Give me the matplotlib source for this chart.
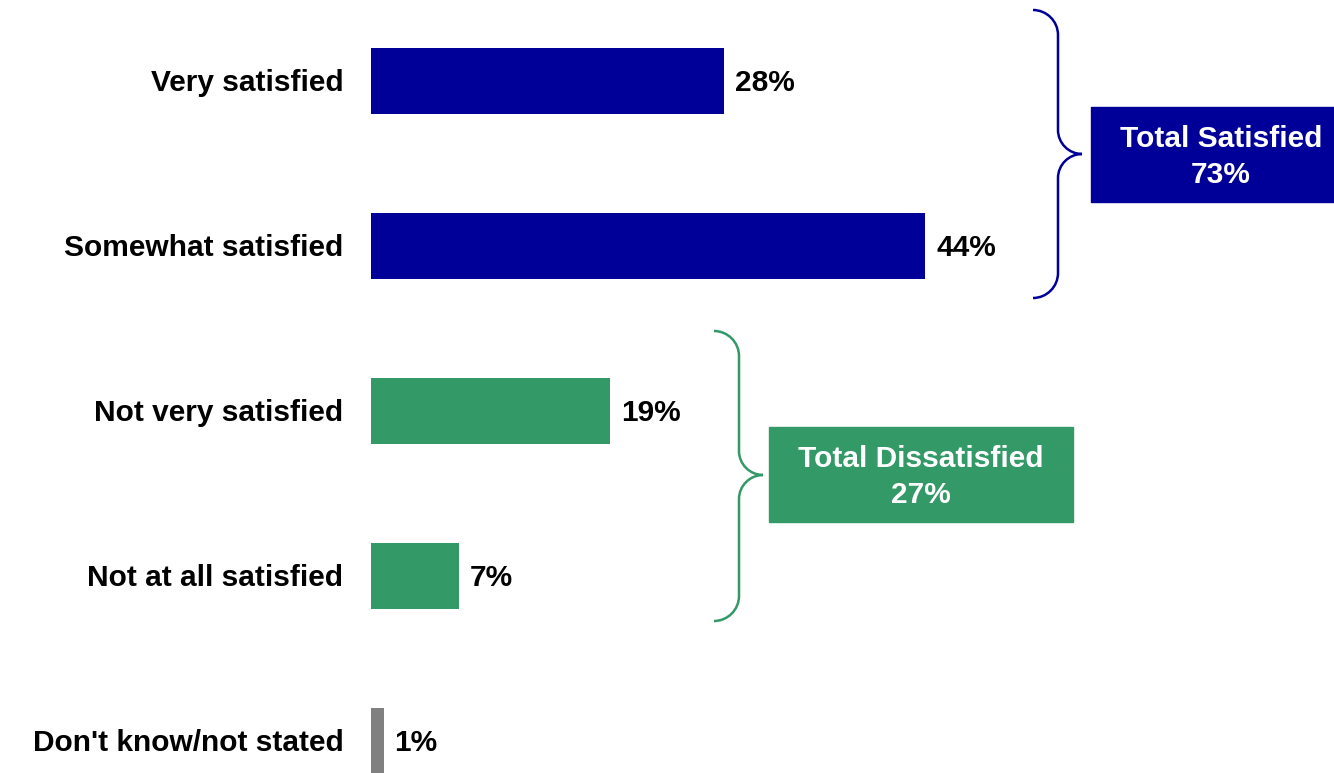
import matplotlib.pyplot as plt
from matplotlib.path import Path
from matplotlib.patches import PathPatch, Rectangle

plt.rcParams['font.family'] = ['Liberation Sans', 'DejaVu Sans']

categories = ["Very satisfied", "Somewhat satisfied", "Not very satisfied",
              "Not at all satisfied", "Don't know/not stated"]
values = [28, 44, 19, 7, 1]
bar_colors = ["#000099", "#000099", "#339966", "#339966", "#808080"]
group_labels = ["Total Satisfied\n73%", "Total Dissatisfied\n27%"]

BLUE = "#000099"
GREEN = "#339966"
W, H = 1334, 773
FS = 21.5

fig = plt.figure(figsize=(W / 100, H / 100), dpi=100)

# bar axes: left edge of bars at x=371 px, 12.6 px per percent
left = 371
ax = fig.add_axes([left / W, 0, (W - left) / W, 1])
ax.set_xlim(0, (W - left) / 12.6)
ax.set_ylim((H - 81) / 165, -81 / 165)
ypos = list(range(len(categories)))
ax.barh(ypos, values, height=0.4, color=bar_colors)
for y, v, c in zip(ypos, values, categories):
    ax.text(v + 0.85, y + 0.01, f"{v}%", va="center", ha="left",
            fontsize=FS, fontweight="bold")
    ax.text(-2.2, y + 0.01, c, va="center", ha="right",
            fontsize=FS, fontweight="bold", clip_on=False)
ax.axis("off")

# overlay in pixel coordinates for braces and total boxes
ov = fig.add_axes([0, 0, 1, 1])
ov.set_xlim(0, W)
ov.set_ylim(H, 0)
ov.axis("off")


def brace(x0, xm, xt, y0, ym, y1, color):
    r = xm - x0
    s = xt - xm
    k = 0.55
    verts = [(x0, y0), (x0 + k * r, y0), (xm, y0 + r - k * r), (xm, y0 + r),
             (xm, ym - s),
             (xm, ym - s + k * s), (xt - k * s, ym), (xt, ym),
             (xt - k * s, ym), (xm, ym + s - k * s), (xm, ym + s),
             (xm, y1 - r),
             (xm, y1 - r + k * r), (x0 + k * r, y1), (x0, y1)]
    codes = [Path.MOVETO, Path.CURVE4, Path.CURVE4, Path.CURVE4,
             Path.LINETO,
             Path.CURVE4, Path.CURVE4, Path.CURVE4,
             Path.CURVE4, Path.CURVE4, Path.CURVE4,
             Path.LINETO,
             Path.CURVE4, Path.CURVE4, Path.CURVE4]
    ov.add_patch(PathPatch(Path(verts, codes), fill=False,
                           edgecolor=color, lw=1.8))


brace(1033, 1058, 1082, 10, 154, 298, BLUE)
brace(714, 739, 763, 331, 475, 621, GREEN)

ov.add_patch(Rectangle((1091, 107), 260, 95, color=BLUE))
ov.text(1221, 157, group_labels[0], color="white", ha="center", va="center",
        fontsize=FS, fontweight="bold", linespacing=1.4)
ov.add_patch(Rectangle((769, 427), 304, 95, color=GREEN))
ov.text(921, 477, group_labels[1], color="white", ha="center", va="center",
        fontsize=FS, fontweight="bold", linespacing=1.4)

fig.savefig("out.png", dpi=100)
